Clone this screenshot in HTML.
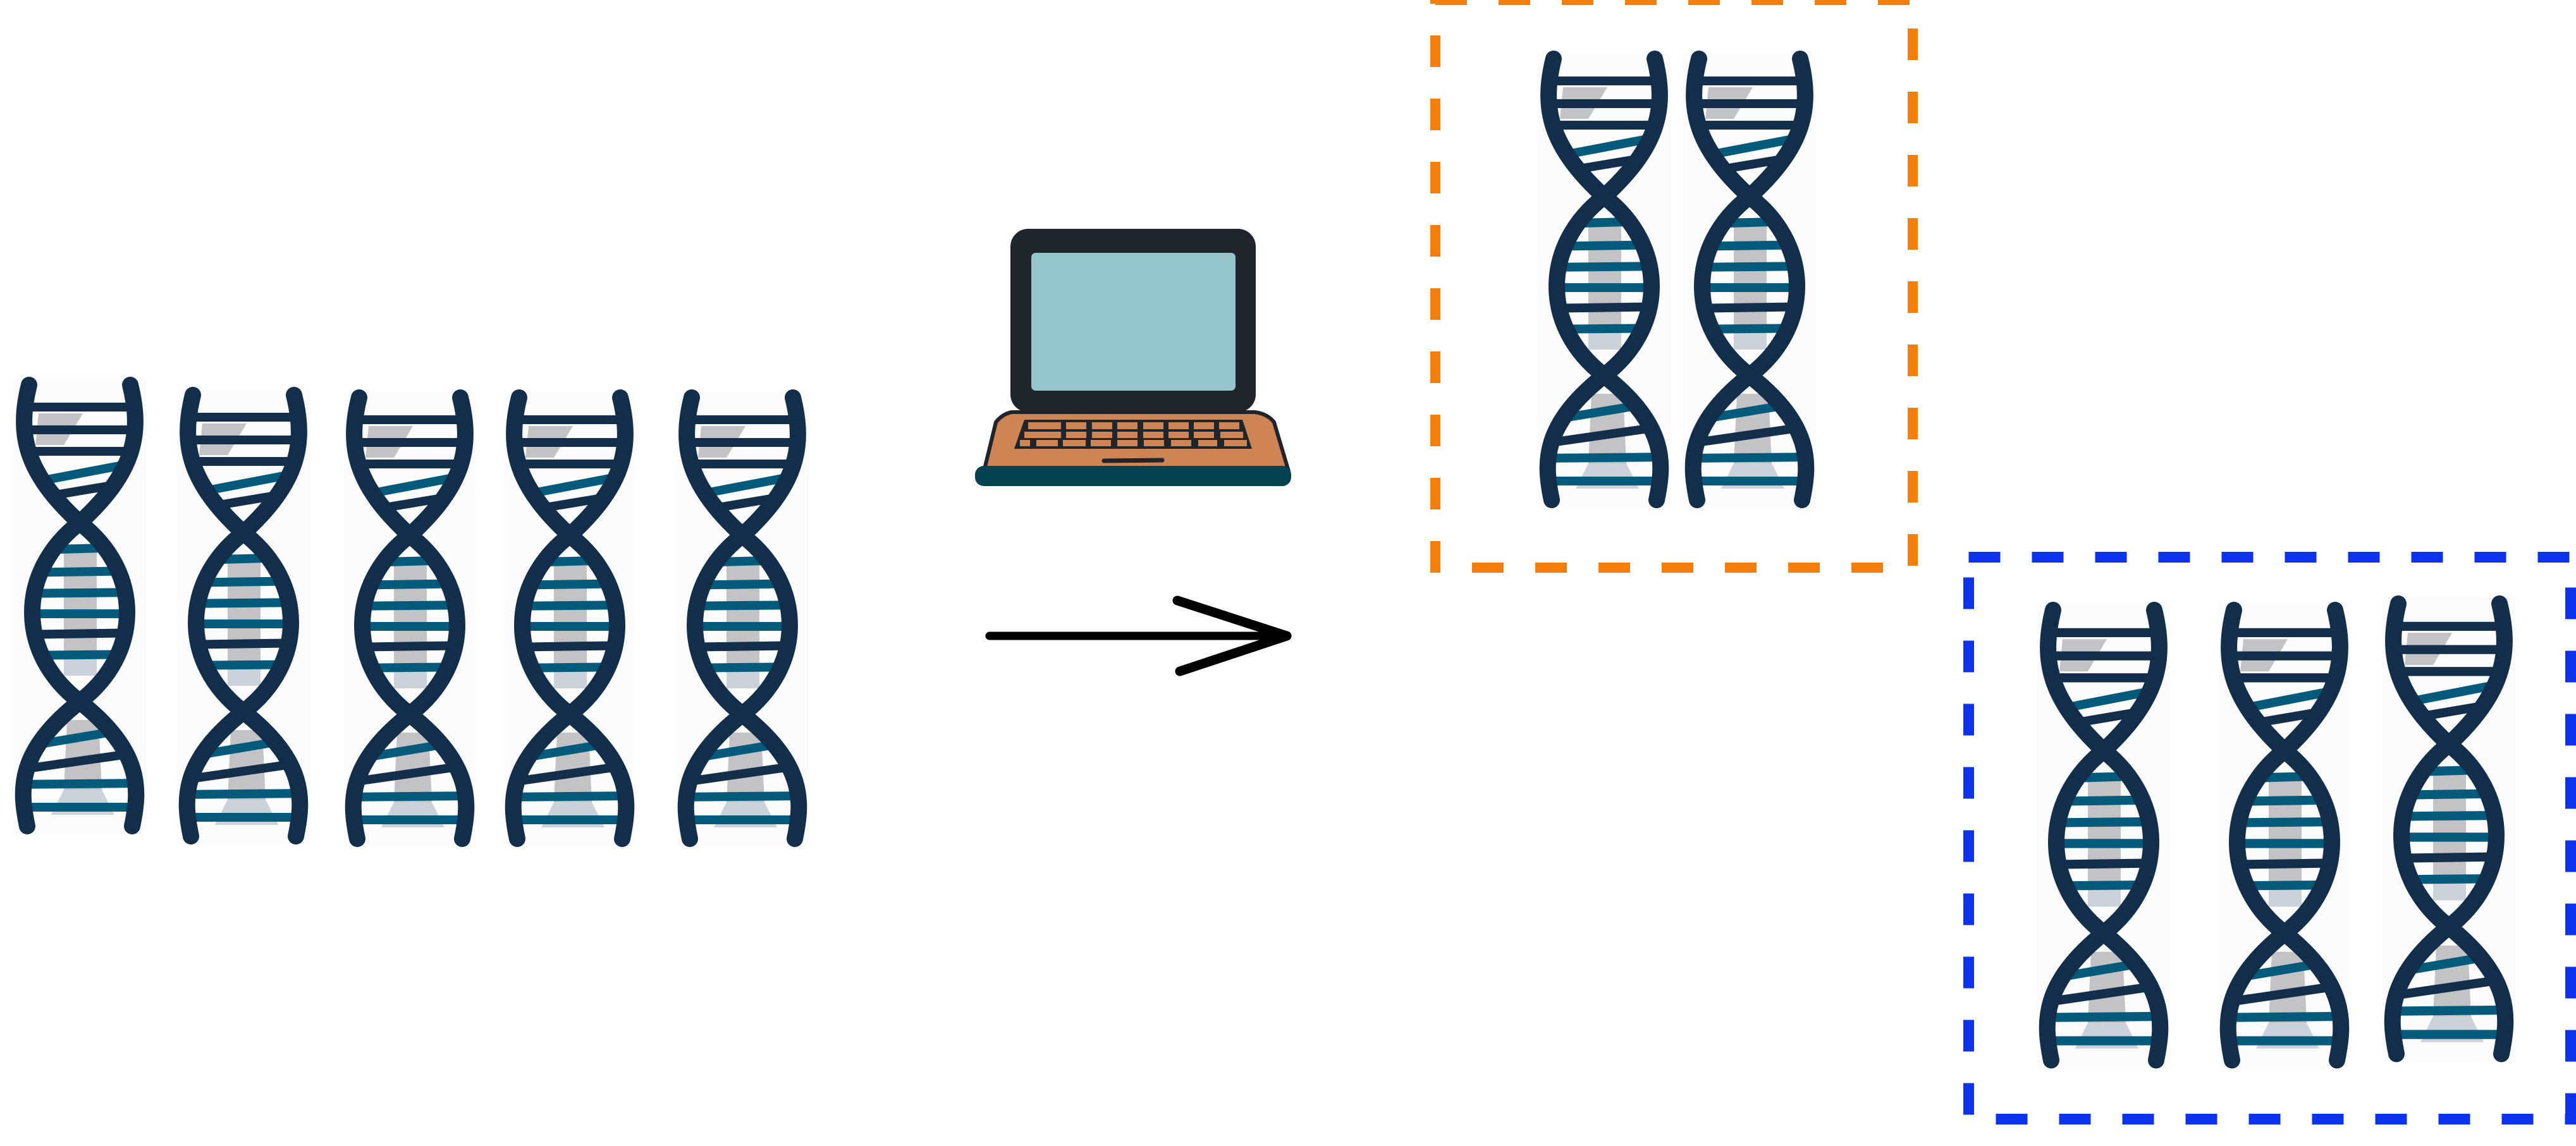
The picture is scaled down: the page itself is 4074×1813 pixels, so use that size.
<!DOCTYPE html>
<html><head><meta charset="utf-8"><style>
html,body{margin:0;padding:0;background:#fff;}
svg{display:block;}
</style></head><body>
<svg width="4074" height="1813" viewBox="0 0 4074 1813" xmlns="http://www.w3.org/2000/svg">
<defs>
  <clipPath id="inside">
    <path d="M25,10 C5,90 20,150 105,228 C190,150 205,90 185,10 Z"/>
    <path d="M105,228 C5,305 5,435 105,511 C205,435 205,305 105,228 Z"/>
    <path d="M105,511 C5,590 10,650 22,710 L188,710 C200,650 205,590 105,511 Z"/>
  </clipPath>
  <g id="helix">
    <rect x="0" y="0" width="210" height="720" fill="#fcfcfd"/>
    <g clip-path="url(#inside)">
      <polygon points="40,55 110,55 80,105 35,105" fill="#c3c3c5"/>
      <rect x="80" y="262" width="52" height="205" fill="#c3c3c5"/>
      <rect x="80" y="440" width="52" height="30" fill="#ccd2da"/>
      <polygon points="85,540 135,540 140,650 80,650" fill="#c3c3c5"/>
      <polygon points="80,650 140,650 160,690 60,690" fill="#ccd2da"/>
      <g stroke-width="14" fill="none">
        <line x1="0" y1="45" x2="210" y2="45" stroke="#132e4a"/>
        <line x1="0" y1="81" x2="210" y2="81" stroke="#132e4a"/>
        <line x1="0" y1="115" x2="210" y2="115" stroke="#132e4a"/>
        <line x1="0" y1="170" x2="210" y2="130" stroke="#035a7a"/>
        <line x1="0" y1="195" x2="210" y2="160" stroke="#132e4a"/>
        <line x1="0" y1="272" x2="210" y2="266" stroke="#035a7a"/>
        <line x1="0" y1="307" x2="210" y2="304" stroke="#035a7a"/>
        <line x1="0" y1="340" x2="210" y2="338" stroke="#035a7a"/>
        <line x1="0" y1="372" x2="210" y2="372" stroke="#035a7a"/>
        <line x1="0" y1="405" x2="210" y2="402" stroke="#132e4a"/>
        <line x1="0" y1="438" x2="210" y2="436" stroke="#035a7a"/>
        <line x1="0" y1="585" x2="210" y2="550" stroke="#035a7a"/>
        <line x1="0" y1="620" x2="210" y2="590" stroke="#132e4a"/>
        <line x1="0" y1="642" x2="210" y2="640" stroke="#035a7a"/>
        <line x1="0" y1="678" x2="210" y2="678" stroke="#035a7a"/>
      </g>
    </g>
    <g stroke="#132e4a" stroke-width="26" fill="none" stroke-linecap="round">
      <path d="M25,10 C5,90 20,150 105,228 C205,305 205,435 105,511 C5,590 10,650 22,708"/>
      <path d="M185,10 C205,90 190,150 105,228 C5,305 5,435 105,511 C205,590 200,650 188,708"/>
    </g>
  </g>
</defs>

<use href="#helix" transform="translate(21,599)"/>
<use href="#helix" transform="translate(280,615)"/>
<use href="#helix" transform="translate(543,619)"/>
<use href="#helix" transform="translate(796,619)"/>
<use href="#helix" transform="translate(1069,619)"/>

<use href="#helix" transform="translate(2432,83)"/>
<use href="#helix" transform="translate(2662,83)"/>
<rect x="2270" y="0" width="755" height="898" fill="none" stroke="#f57f0a" stroke-width="16" stroke-dasharray="50 50"/>

<use href="#helix" transform="translate(3222,955) scale(1,1.02)"/>
<use href="#helix" transform="translate(3508,955) scale(1,1.02)"/>
<use href="#helix" transform="translate(3768,945) scale(1,1.02)"/>
<rect x="3113.5" y="881.5" width="952" height="889" fill="none" stroke="#0c32ee" stroke-width="17" stroke-dasharray="50 50"/>

<path d="M1600,652 L1985,652 Q2005,655 2015,668 L2037,742 L1557,742 L1575,668 Q1585,655 1600,652 Z" fill="#cf8453" stroke="#20242b" stroke-width="6"/>
<rect x="1542" y="737" width="500" height="32" rx="14" fill="#03424f"/>
<rect x="1598" y="362" width="388" height="290" rx="28" fill="#20242b"/>
<rect x="1631" y="400" width="323" height="218" rx="7" fill="#94c6cc"/>
<g>
  <polygon points="1620,664 1965,664 1980,710 1604,710" fill="#20242b"/>
  <g fill="#cf8453">
    <rect x="1626" y="668" width="28" height="11"/>
    <rect x="1646" y="668" width="32" height="11"/>
    <rect x="1686" y="668" width="32" height="11"/>
    <rect x="1727" y="668" width="32" height="11"/>
    <rect x="1767" y="668" width="32" height="11"/>
    <rect x="1808" y="668" width="32" height="11"/>
    <rect x="1848" y="668" width="32" height="11"/>
    <rect x="1888" y="668" width="32" height="11"/>
    <rect x="1928" y="668" width="32" height="11"/>
    <rect x="1620" y="683" width="30" height="10"/>
    <rect x="1646" y="683" width="32" height="10"/>
    <rect x="1686" y="683" width="32" height="10"/>
    <rect x="1727" y="683" width="32" height="10"/>
    <rect x="1767" y="683" width="32" height="10"/>
    <rect x="1808" y="683" width="32" height="10"/>
    <rect x="1848" y="683" width="32" height="10"/>
    <rect x="1888" y="683" width="32" height="10"/>
    <rect x="1930" y="683" width="36" height="10"/>
    <rect x="1613" y="696" width="16" height="10"/>
    <rect x="1639" y="696" width="34" height="10"/>
    <rect x="1681" y="696" width="36" height="10"/>
    <rect x="1725" y="696" width="32" height="10"/>
    <rect x="1767" y="696" width="32" height="10"/>
    <rect x="1809" y="696" width="32" height="10"/>
    <rect x="1852" y="696" width="32" height="10"/>
    <rect x="1895" y="696" width="30" height="10"/>
    <rect x="1936" y="696" width="36" height="10"/>
  </g>
</g>
<line x1="1746" y1="729" x2="1838" y2="728" stroke="#20242b" stroke-width="7" stroke-linecap="round"/>

<g stroke="#000" stroke-linecap="round" fill="none">
  <line x1="1565" y1="1006" x2="2030" y2="1006" stroke-width="13"/>
  <line x1="1862" y1="950" x2="2035" y2="1006" stroke-width="15"/>
  <line x1="2035" y1="1006" x2="1866" y2="1062" stroke-width="15"/>
</g>
</svg>
</body></html>
